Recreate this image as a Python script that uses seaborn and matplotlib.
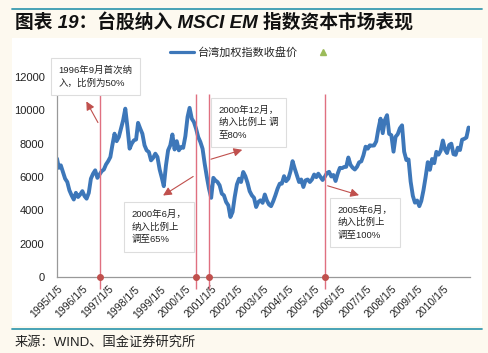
import pandas as pd
import matplotlib.pyplot as plt
import seaborn as sns
from matplotlib.lines import Line2D
from matplotlib.patches import Rectangle

# 台湾加权指数收盘价：起始值 + 1995-2010 每月月末值
start_date = "1995-01-05"
start_value = 7100
close_1995 = [6550, 6700, 6300, 5900, 5700, 5200, 4900, 4650, 5050, 4800, 4950, 5150]
close_1996 = [4850, 4700, 5050, 5900, 6200, 6400, 5950, 6150, 6350, 6450, 6750, 6950]
close_1997 = [7200, 7900, 8600, 8150, 8400, 8900, 9400, 10100, 9000, 7700, 8000, 8200]
close_1998 = [8250, 9250, 8900, 8600, 7900, 7600, 7500, 7000, 7150, 7400, 7200, 6450]
close_1999 = [5950, 5450, 6700, 7600, 7900, 8550, 7650, 8150, 7600, 7800, 7750, 8450]
close_2000 = [9600, 10150, 9500, 9300, 8900, 8400, 8100, 7700, 6800, 6000, 5300, 4750]
close_2001 = [5950, 5800, 5700, 5500, 5000, 4900, 4500, 4300, 3600, 3900, 4800, 5550]
close_2002 = [5900, 5700, 6300, 6050, 5650, 5150, 4900, 4750, 4200, 4500, 4600, 4450]
close_2003 = [4950, 4600, 4350, 4250, 4550, 4900, 5300, 5600, 5600, 6050, 5750, 5900]
close_2004 = [6350, 6950, 6500, 6100, 5700, 5850, 5400, 5800, 5850, 5700, 5850, 6150]
close_2005 = [5990, 6200, 6000, 5820, 6010, 6240, 6310, 6030, 6120, 5760, 6200, 6550]
close_2006 = [6530, 6600, 6610, 7170, 6730, 6560, 6450, 6610, 6880, 6940, 7300, 7820]
close_2007 = [7700, 7900, 7880, 7890, 8140, 8880, 9500, 8630, 9410, 9710, 8590, 8510]
close_2008 = [7520, 8410, 8570, 8920, 9100, 7520, 7020, 7050, 5720, 4870, 4460, 4590]
close_2009 = [4250, 4560, 5210, 5990, 6890, 6430, 7080, 6830, 7510, 7340, 7580, 8190]
close_2010 = [7640, 7440, 7920, 8000, 7370, 7330, 7760, 7620, 8240, 8290, 8370, 8970]

event_dates = ["1996-09-01", "2000-06-01", "2000-12-01", "2005-06-01"]
event_texts = ["1996年9月首次纳\n入，比例为50%",
               "2000年6月，\n纳入比例上\n调至65%",
               "2000年12月，\n纳入比例上 调\n至80%",
               "2005年6月，\n纳入比例上\n调至100%"]
tick_years = list(range(1995, 2011))

monthly = (close_1995 + close_1996 + close_1997 + close_1998 + close_1999 + close_2000
           + close_2001 + close_2002 + close_2003 + close_2004 + close_2005 + close_2006
           + close_2007 + close_2008 + close_2009 + close_2010)
dates = [pd.Timestamp(start_date)] + list(pd.date_range("1995-01-31", periods=len(monthly), freq="ME"))
df = pd.DataFrame({"date": dates, "close": [start_value] + monthly})

sns.set_style("white")
plt.rcParams["font.family"] = ["Liberation Sans", "Noto Sans CJK SC"]

bg = "#FDF9EF"
fig = plt.figure(figsize=(4.88, 3.53), dpi=100, facecolor=bg)
W, H = 488, 353

# 白色面板 + 上下青色分隔线
fig.add_artist(Rectangle((12 / W, (H - 326) / H), 470 / W, 288 / H, transform=fig.transFigure,
                         facecolor="white", edgecolor="none", zorder=-10))
for yy in (9, 329):
    fig.add_artist(Line2D([12 / W, 482 / W], [(H - yy) / H] * 2, transform=fig.transFigure,
                          color="#3A9BB0", lw=1.3))

fig.text(15 / W, (H - 23) / H, "图表 19：台股纳入 MSCI EM 指数资本市场表现", fontsize=13.5,
         fontweight="bold", fontstyle="italic", va="center", ha="left", color="#111111")
fig.text(15 / W, (H - 342) / H, "来源：WIND、国金证券研究所", fontsize=9.5, va="center",
         ha="left", color="#222222")

ax = fig.add_axes([57 / W, (H - 277) / H, 413 / W, 200 / H])
ax.set_facecolor("none")

sns.lineplot(data=df, x="date", y="close", ax=ax, color="#3D77B9", lw=2.8)

ax.set_xlim(pd.Timestamp("1995-01-05"), pd.Timestamp("2011-01-20"))
ax.set_ylim(0, 12000)
ax.set_yticks(range(0, 12001, 2000))
ax.set_yticklabels([str(v) for v in range(0, 12001, 2000)], fontsize=8)
ticks = [pd.Timestamp(f"{y}-01-05") for y in tick_years]
ax.set_xticks(ticks)
ax.set_xticklabels([f"{y}/1/5" for y in tick_years], rotation=45, ha="right",
                   rotation_mode="anchor", fontsize=7.5)
ax.set_xlabel("")
ax.set_ylabel("")
for side in ("top", "right"):
    ax.spines[side].set_visible(False)
for side in ("left", "bottom"):
    ax.spines[side].set_color("#999999")
    ax.spines[side].set_linewidth(0.9)
ax.tick_params(axis="both", direction="out", length=3, width=0.8, color="#999999",
               labelcolor="#222222", pad=2)
ax.tick_params(axis="y", pad=6)

# 纳入时间点：竖线 + 圆点
ev = pd.to_datetime(event_dates)
ax.vlines(ev, -700, 11000, color="#E07080", lw=1.0, clip_on=False, zorder=3)
ax.scatter(ev, [0] * len(ev), s=16, color="#C0504D", zorder=4, clip_on=False)

# 文本框
box_pos = [(0.093, 1.0025), (0.246, 0.25), (0.464, 0.7725), (0.745, 0.2725)]
for (bx, by), txt in zip(box_pos, event_texts):
    ax.text(bx, by, txt, transform=ax.transAxes, fontsize=6.8, ha="center", va="center",
            ma="left", linespacing=1.45, color="#222222", zorder=5,
            bbox=dict(boxstyle="square,pad=0.8", facecolor="white", edgecolor="#DDDDDD", lw=0.8))

# 箭头
arrows = [((0.1024, 0.76), (0.0678, 0.89)),
          ((0.3354, 0.51), (0.2511, 0.40)),
          ((0.3663, 0.585), (0.455, 0.64)),
          ((0.6489, 0.46), (0.7378, 0.405))]
for src, dst in arrows:
    ax.annotate("", xy=dst, xytext=src, xycoords="axes fraction", textcoords="axes fraction",
                arrowprops=dict(arrowstyle="-|>,head_length=0.5,head_width=0.25",
                                color="#C0504D", lw=0.8), zorder=5)

handles = [Line2D([], [], color="#3D77B9", lw=2.3),
           Line2D([], [], ls="none", marker="^", color="#9BBB59", markersize=5)]
ax.legend(handles, ["台湾加权指数收盘价", ""], loc="center", bbox_to_anchor=(0.478, 1.125),
          ncol=2, frameon=False, fontsize=8, handlelength=2.2, handletextpad=0.3,
          columnspacing=1.2)

fig.savefig("out.png", dpi=100, facecolor=bg)
